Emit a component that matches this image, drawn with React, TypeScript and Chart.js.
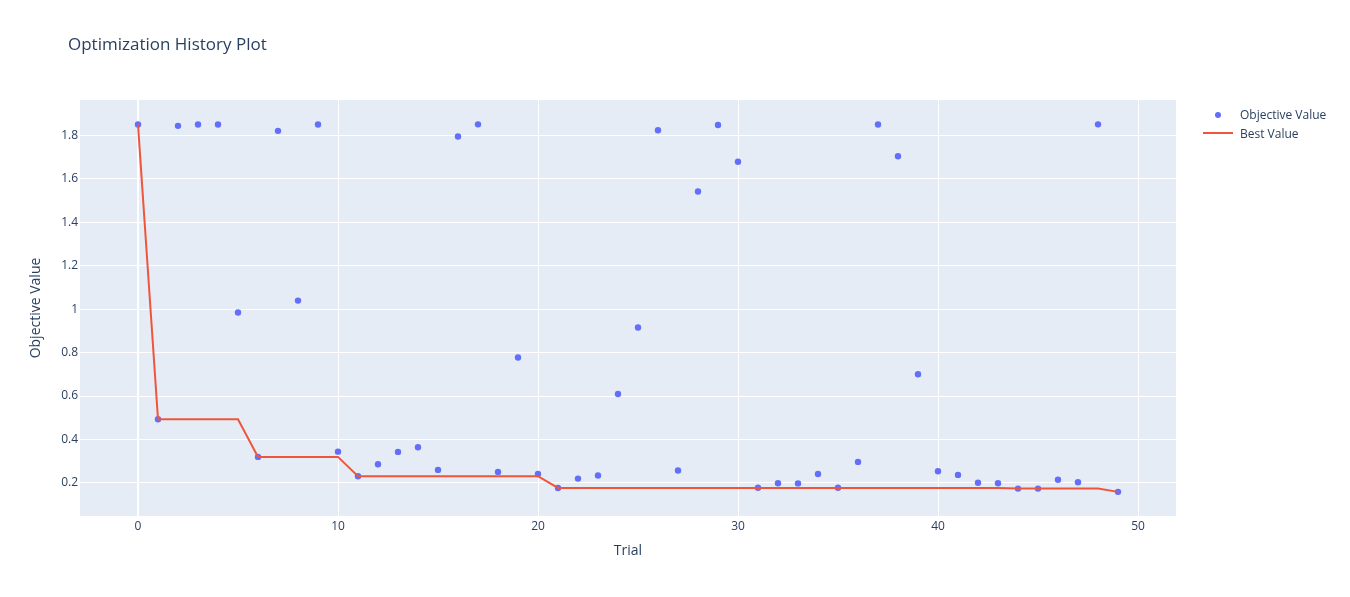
import { useEffect, useRef } from 'react';
import { Chart, registerables } from 'chart.js';

Chart.register(...registerables);

// trial numbers 0..49
const trials = [
  0, 1, 2, 3, 4, 5, 6, 7, 8, 9,
  10, 11, 12, 13, 14, 15, 16, 17, 18, 19,
  20, 21, 22, 23, 24, 25, 26, 27, 28, 29,
  30, 31, 32, 33, 34, 35, 36, 37, 38, 39,
  40, 41, 42, 43, 44, 45, 46, 47, 48, 49,
];

const objectiveValues = [
  1.849, 0.493, 1.843, 1.849, 1.849, 0.984, 0.32, 1.82, 1.039, 1.849,
  0.344, 0.231, 0.286, 0.343, 0.364, 0.26, 1.794, 1.85, 0.251, 0.777,
  0.241, 0.177, 0.22, 0.234, 0.609, 0.915, 1.823, 0.257, 1.541, 1.847,
  1.678, 0.178, 0.199, 0.198, 0.241, 0.178, 0.297, 1.849, 1.703, 0.7,
  0.254, 0.237, 0.201, 0.199, 0.174, 0.174, 0.215, 0.203, 1.85, 0.159,
];

const bestValues = [
  1.849, 0.493, 0.493, 0.493, 0.493, 0.493, 0.32, 0.32, 0.32, 0.32,
  0.32, 0.231, 0.231, 0.231, 0.231, 0.231, 0.231, 0.231, 0.231, 0.231,
  0.231, 0.177, 0.177, 0.177, 0.177, 0.177, 0.177, 0.177, 0.177, 0.177,
  0.177, 0.177, 0.177, 0.177, 0.177, 0.177, 0.177, 0.177, 0.177, 0.177,
  0.177, 0.177, 0.177, 0.177, 0.174, 0.174, 0.174, 0.174, 0.174, 0.159,
];

const xTicks = [0, 10, 20, 30, 40, 50];
const yTicks = [0.2, 0.4, 0.6, 0.8, 1, 1.2, 1.4, 1.6, 1.8];

const fontFamily = '"Open Sans", verdana, arial, sans-serif';
const textColor = '#2a3f5f';
const plotBg = '#E5ECF6';
const markerColor = '#636efa';
const lineColor = '#ef553b';

const plotBackground = {
  id: 'plotBackground',
  beforeDraw(chart: Chart) {
    const { ctx, chartArea } = chart;
    ctx.save();
    ctx.fillStyle = plotBg;
    ctx.fillRect(chartArea.left, chartArea.top, chartArea.right - chartArea.left, chartArea.bottom - chartArea.top);
    ctx.restore();
  },
};

export default function App() {
  const canvasRef = useRef<HTMLCanvasElement | null>(null);

  useEffect(() => {
    const canvas = canvasRef.current;
    if (!canvas) return;
    const chart = new Chart(canvas, {
      type: 'scatter',
      data: {
        datasets: [
          {
            type: 'scatter',
            label: 'Objective Value',
            data: trials.map((t, i) => ({ x: t, y: objectiveValues[i] })),
            backgroundColor: markerColor,
            borderColor: markerColor,
            borderWidth: 0,
            pointRadius: 3.2,
            order: 1,
          },
          {
            type: 'line',
            label: 'Best Value',
            data: trials.map((t, i) => ({ x: t, y: bestValues[i] })),
            borderColor: lineColor,
            borderWidth: 2,
            pointRadius: 0,
            fill: false,
            tension: 0,
            order: 0,
          },
        ],
      },
      options: {
        animation: false,
        responsive: true,
        maintainAspectRatio: false,
        layout: { padding: { left: 24, top: 100, right: 174, bottom: 34 } },
        plugins: {
          legend: { display: false },
          title: { display: false },
          tooltip: { enabled: false },
        },
        scales: {
          x: {
            type: 'linear',
            min: -2.9,
            max: 51.9,
            afterBuildTicks: (scale) => {
              scale.ticks = xTicks.map((value) => ({ value }));
            },
            afterFit: (scale) => {
              scale.height = 47;
            },
            grid: {
              color: '#ffffff',
              lineWidth: (ctx) => (ctx.tick && ctx.tick.value === 0 ? 2 : 1),
              drawTicks: false,
            },
            border: { display: false },
            ticks: {
              color: textColor,
              font: { family: fontFamily, size: 12 },
              padding: 3,
              maxRotation: 0,
            },
            title: {
              display: true,
              text: 'Trial',
              color: textColor,
              font: { family: fontFamily, size: 14 },
            },
          },
          y: {
            type: 'linear',
            min: 0.048,
            max: 1.962,
            afterBuildTicks: (scale) => {
              scale.ticks = yTicks.map((value) => ({ value }));
            },
            afterFit: (scale) => {
              scale.width = 56;
            },
            grid: { color: '#ffffff', lineWidth: 1, drawTicks: false },
            border: { display: false },
            ticks: {
              color: textColor,
              font: { family: fontFamily, size: 12 },
              padding: 2,
              callback: (value) => String(Math.round(Number(value) * 10) / 10),
            },
            title: {
              display: true,
              text: 'Objective Value',
              color: textColor,
              font: { family: fontFamily, size: 14 },
            },
          },
        },
      },
      plugins: [plotBackground],
    });
    return () => chart.destroy();
  }, []);

  return (
    <div
      style={{
        position: 'absolute',
        left: 0,
        top: 0,
        width: 1350,
        height: 597,
        background: '#ffffff',
        fontFamily,
      }}
    >
      <canvas ref={canvasRef} />
      <div
        style={{
          position: 'absolute',
          left: 68,
          top: 34,
          fontSize: 17,
          lineHeight: '20px',
          color: textColor,
          whiteSpace: 'nowrap',
        }}
      >
        Optimization History Plot
      </div>
      <div style={{ position: 'absolute', left: 1203, top: 106, fontSize: 12, color: textColor }}>
        <div style={{ position: 'relative', height: 19, width: 140 }}>
          <span
            style={{
              position: 'absolute',
              left: 12,
              top: 6,
              width: 6,
              height: 6,
              borderRadius: '50%',
              background: markerColor,
            }}
          />
          <span style={{ position: 'absolute', left: 37, top: 0, lineHeight: '17px', whiteSpace: 'nowrap' }}>
            Objective Value
          </span>
        </div>
        <div style={{ position: 'relative', height: 19, width: 140 }}>
          <span
            style={{
              position: 'absolute',
              left: 0,
              top: 7,
              width: 30,
              height: 2,
              background: lineColor,
            }}
          />
          <span style={{ position: 'absolute', left: 37, top: 0, lineHeight: '17px', whiteSpace: 'nowrap' }}>
            Best Value
          </span>
        </div>
      </div>
    </div>
  );
}
